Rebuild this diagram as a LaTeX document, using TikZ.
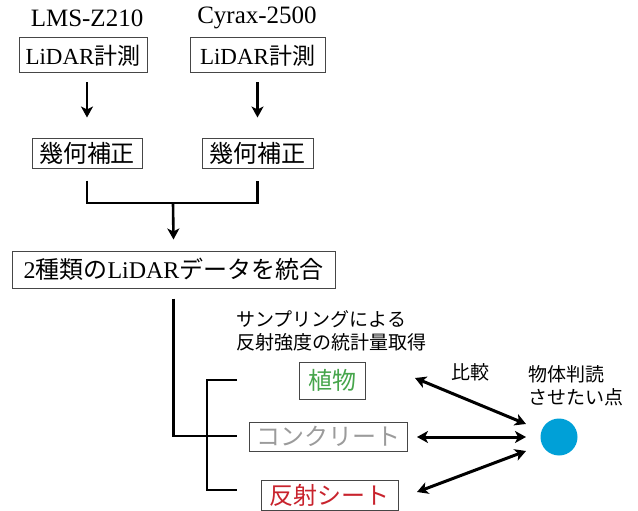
\documentclass[tikz,border=0pt]{standalone}
\usepackage{fontspec}
\setmainfont{Liberation Serif}
\newfontfamily\jp{Noto Sans CJK JP}
\newfontfamily\lat{Liberation Serif}
\usetikzlibrary{arrows.meta}
\definecolor{vegc}{RGB}{70,165,75}
\definecolor{concc}{RGB}{155,155,155}
\definecolor{refc}{RGB}{200,35,45}
\definecolor{dotc}{RGB}{0,160,215}
\definecolor{boxc}{RGB}{70,70,70}
\begin{document}
\begin{tikzpicture}[x=1pt,y=-1pt,
  box/.style={draw=boxc,line width=1pt,inner sep=0pt,font=\fontsize{23}{26}\selectfont},
  lbl/.style={inner sep=0pt,font=\fontsize{25}{28}\selectfont\lat},
  small/.style={inner sep=0pt,font=\fontsize{19}{23}\selectfont\jp,align=left},
  conn/.style={line width=2.6pt,black},
  arr/.style={conn,-{Stealth[length=11pt,width=12pt,inset=3pt]}},
  darr/.style={line width=3pt,black,{Stealth[length=11pt,width=12pt,inset=3pt]}-{Stealth[length=11pt,width=12pt,inset=3pt]}}]
\useasboundingbox (0,0) rectangle (638,511);
% top labels
\node[lbl] (n1) at (87,18) {LMS-Z210};
\node[lbl] (n2) at (257,18) {Cyrax-2500};
% measurement boxes
\node[box,minimum width=128pt,minimum height=35pt] (b1) at (83,55.5) {{\lat LiDAR}{\jp 計測}};
\node[box,minimum width=135pt,minimum height=35pt] (b2) at (257.5,55.5) {{\lat LiDAR}{\jp 計測}};
% geometric correction
\node[box,minimum width=110pt,minimum height=30pt,font=\fontsize{24}{26}\selectfont\jp] (g1) at (87,153) {幾何補正};
\node[box,minimum width=111pt,minimum height=30pt,font=\fontsize{24}{26}\selectfont\jp] (g2) at (257.5,153) {幾何補正};
% merge
\node[box,minimum width=323pt,minimum height=37pt,font=\fontsize{24}{26}\selectfont] (m) at (173.5,269.5) {{\lat 2}{\jp 種類の}{\lat LiDAR}{\jp データを統合}};
% arrows
\draw[arr] ([xshift=4pt,yshift=-9pt]b1.south) -- ([yshift=20pt]g1.north);
\draw[arr] ([yshift=-9pt]b2.south) -- ([yshift=20pt]g2.north);
\coordinate (j) at (173,203);
\draw[conn] ([yshift=-12pt]g1.south) |- (j) -| ([yshift=-12pt]g2.south);
\draw[arr] (j) -- ([yshift=11pt]m.north);
% tree
\coordinate (e1) at (237,380);
\coordinate (e2) at (237,436);
\coordinate (e3) at (237,490);
\coordinate (k1) at (207,380);
\coordinate (k3) at (207,490);
\draw[conn] ([yshift=-10pt]m.south) |- (e2);
\draw[conn] (e1) -- (k1) -- (k3) -- (e3);
% sampling text
\node[small,anchor=west] (s) at (236,331) {サンプリングによる\\反射強度の統計量取得};
% classes
\node[box,minimum width=66pt,minimum height=37pt,font=\fontsize{24}{26}\selectfont\jp,text=vegc] (veg) at (332,380.5) {植物};
\node[box,minimum width=158pt,minimum height=29pt,font=\fontsize{24}{26}\selectfont\jp,text=concc] (con) at (328,436.5) {コンクリート};
\node[box,minimum width=137pt,minimum height=30pt,font=\fontsize{24}{26}\selectfont\jp,text=refc] (ref) at (329.5,495) {反射シート};
% target
\node[small] (cmp) at (470,372) {比較};
\node[small,anchor=west] (tgt) at (528,386) {物体判読\\させたい点};
\node[circle,fill=dotc,minimum size=37pt,inner sep=0pt] (dot) at (559,437) {};
\coordinate (a1) at (415,378);
\coordinate (c1) at (526,424);
\coordinate (a2) at (417,437);
\coordinate (c2) at (526,437);
\coordinate (a3) at (417,492);
\coordinate (c3) at (526,451);
\draw[darr] (a1) -- (c1);
\draw[darr] (a2) -- (c2);
\draw[darr] (a3) -- (c3);
\end{tikzpicture}
\end{document}
